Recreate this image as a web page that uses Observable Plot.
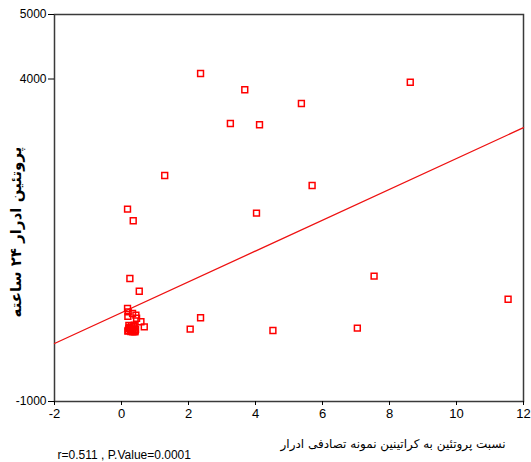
<!DOCTYPE html>
<html>
<head>
<meta charset="utf-8">
<script src="https://cdn.jsdelivr.net/npm/d3@7"></script>
<script src="https://cdn.jsdelivr.net/npm/@observablehq/plot@0.6"></script>
<style>
  body { margin: 0; background: #fff; }
  #chart svg { display: block; }
</style>
</head>
<body>
<div id="chart"></div>
<script>
// Protein/creatinine ratio of random urine sample (x) vs 24h urine protein (y)
const ratio = [
  2.36, 3.68, 8.62, 5.37, 3.25, 4.12, 1.29, 5.69, 0.18, 0.35, 4.03,
  7.54, 11.54, 2.36, 2.05, 4.52, 7.04, 0.25, 0.53,
  0.18, 0.33, 0.20, 0.43, 0.19, 0.45, 0.58, 0.68, 0.22, 0.30, 0.38,
  0.25, 0.35, 0.42, 0.20, 0.28, 0.40, 0.24, 0.32, 0.19, 0.37, 0.27,
  0.41, 0.22, 0.34
];
const protein24h = [
  4085, 3833, 3950, 3620, 3310, 3290, 2504, 2349, 1982, 1802, 1920,
  943, 586, 298, 121, 101, 137, 907, 710,
  442, 364, 390, 338, 320, 290, 236, 158, 180, 175, 185,
  130, 140, 120, 100, 85, 80, 150, 100, 90, 160, 110,
  95, 130, 82
];
const fitIntercept = 377;
const fitSlope = 239;
const fitRange = [-2, 12];
const xTicks = [-2, 0, 2, 4, 6, 8, 10, 12];
const yTicks = [-1000, 4000, 5000];
const xTitle = "نسبت پروتئین به کراتینین نمونه تصادفی ادرار";
const yTitle = "پروتئین ادرار ۲۴ ساعته";
const note = "r=0.511 , P.Value=0.0001";

const points = ratio.map((x, i) => ({x, y: protein24h[i]}));

const chart = Plot.plot({
  width: 531,
  height: 462,
  marginLeft: 54,
  marginRight: 8,
  marginTop: 14,
  marginBottom: 61,
  style: {fontFamily: "'Liberation Sans', Arial, sans-serif", color: "#000", background: "#fff"},
  x: {domain: [-2, 12]},
  y: {domain: [-1000, 5000]},
  marks: [
    Plot.frame({stroke: "#3a3a3a", strokeWidth: 1.5}),
    Plot.axisX({ticks: xTicks, tickSize: 4, tickPadding: 3, fontSize: 13, label: null, tickFormat: d => String(d)}),
    Plot.axisY({ticks: yTicks, tickSize: 6, tickPadding: 2, fontSize: 12, label: null, tickFormat: d => String(d)}),
    Plot.line(fitRange, {x: d => d, y: d => fitIntercept + fitSlope * d, stroke: "#ee1111", strokeWidth: 1.3}),
    Plot.dot(points, {x: "x", y: "y", symbol: "square", r: 3.3, stroke: "#ff0000", strokeWidth: 1.5, fill: "none"}),
    Plot.text([yTitle], {frameAnchor: "left", dx: -38, dy: 24, rotate: -90, textAnchor: "middle", fontSize: 15, fontWeight: "bold", fontFamily: "'DejaVu Sans', sans-serif"}),
    Plot.text([xTitle], {frameAnchor: "bottom-right", dx: -18, dy: 46, textAnchor: "end", fontSize: 12, fontWeight: "normal", fontFamily: "'DejaVu Sans', sans-serif"}),
    Plot.text([note], {frameAnchor: "bottom-left", dx: 3, dy: 57, textAnchor: "start", fontSize: 12})
  ]
});
document.getElementById("chart").appendChild(chart);
</script>
</body>
</html>
